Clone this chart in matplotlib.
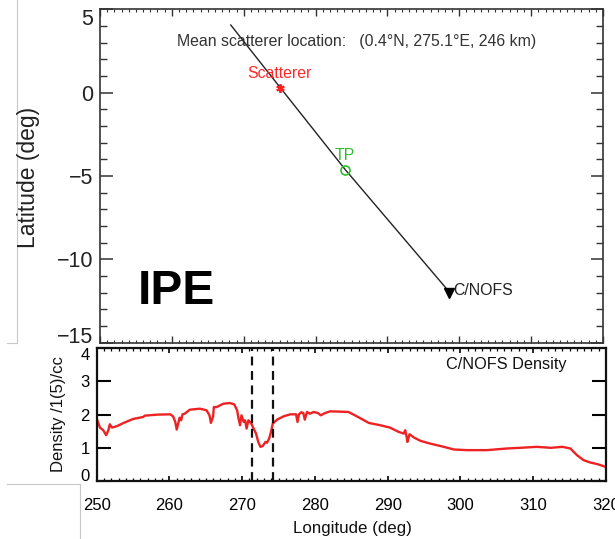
import matplotlib
matplotlib.use("Agg")
import matplotlib.pyplot as plt
from matplotlib.lines import Line2D
from matplotlib.ticker import MultipleLocator

plt.rcParams['font.family'] = ['Liberation Sans', 'DejaVu Sans']

# ---------------- data ----------------
track_lon = [268.2, 275.0, 284.1, 298.6]
track_lat = [4.06, 0.35, -4.6, -11.95]

scatterer_lon = 275.0
scatterer_lat = 0.3
tp_lon = 284.1
tp_lat = -4.64
cnofs_lon = 298.6
cnofs_lat = -12.0

density_lon = [250.0, 250.45, 250.9, 251.3, 251.6, 251.8, 252.1, 252.75, 253.7, 255.0,
               256.4, 256.6, 258.3, 260.1, 260.5, 260.8, 261.0, 261.2, 261.4, 261.6,
               261.8, 262.1, 262.8, 264.2, 265.1, 265.5, 265.7, 266.0, 266.1, 266.5,
               267.4, 268.3, 268.9, 269.3, 269.5, 269.7, 269.9, 270.2, 270.4, 270.6,
               270.85, 271.2, 271.5, 271.9, 272.2, 272.5, 272.8, 273.2, 273.4, 273.7,
               273.9, 274.2, 274.8, 275.7, 276.6, 277.4, 277.6, 277.8, 278.1, 278.4,
               278.6, 278.9, 279.3, 279.8, 280.4, 280.8, 281.4, 282.1, 283.5, 284.6,
               285.5, 286.5, 287.4, 289.0, 290.3, 291.5, 292.2, 292.4, 292.6, 292.7,
               293.0, 293.6, 294.5, 295.8, 297.7, 299.1, 300.9, 303.6, 306.4, 308.2,
               310.5, 312.4, 314.0, 315.1, 316.0, 316.9, 317.8, 318.8, 319.9]
density_val = [1.88, 1.61, 1.53, 1.38, 1.53, 1.71, 1.61, 1.65, 1.75, 1.87,
               1.93, 1.97, 2.0, 2.01, 1.95, 1.78, 1.55, 1.73, 1.91, 1.83,
               2.01, 2.03, 2.15, 2.18, 2.13, 1.98, 1.75, 1.95, 2.23, 2.23,
               2.33, 2.35, 2.31, 2.13, 1.88, 1.68, 1.98, 1.78, 1.83, 1.58,
               1.83, 1.75, 1.61, 1.43, 1.18, 1.03, 1.05, 1.18, 1.15, 1.28,
               1.43, 1.73, 1.85, 1.95, 2.01, 2.01, 1.78, 2.01, 2.07, 2.05,
               1.85, 2.08, 2.03, 2.08, 2.05, 1.98, 2.05, 2.1, 2.09, 2.08,
               1.98, 1.86, 1.75, 1.68, 1.61, 1.48, 1.43, 1.53, 1.33, 1.18,
               1.41, 1.31, 1.21, 1.13, 1.03, 0.95, 0.93, 0.93, 0.98, 1.0,
               1.03, 1.0, 1.03, 0.98, 0.78, 0.63, 0.56, 0.51, 0.43]

dashed_lon = [271.4, 274.2]

lat_ticks = [5, 0, -5, -10, -15]
lat_tick_labels = ["5", "0", "\u22125", "\u221210", "\u221215"]
lon_ticks = [250, 260, 270, 280, 290, 300, 310, 320]
dens_ticks = [0, 1, 2, 3, 4]

mean_text = "Mean scatterer location:   (0.4\u00b0N, 275.1\u00b0E, 246 km)"

# ---------------- figure ----------------
W, H = 615, 539
fig = plt.figure(figsize=(W / 100, H / 100), dpi=100)

def fx(px):
    return px / W

def fy(py):
    return 1 - py / H

# top panel
top_l, top_r, top_t, top_b = 100, 603, 9.35, 342.7
ax1 = fig.add_axes([fx(top_l), fy(top_b), fx(top_r - top_l), (top_b - top_t) / H])
ax1.set_xlim(250, 320)
ax1.set_ylim(-15, 5)
ax1.plot(track_lon, track_lat, color='#222222', lw=1.0)
ax1.plot([scatterer_lon], [scatterer_lat], marker=(6, 2, 0), color='#ff2020',
         ms=6, mew=1.5, ls='none')
ax1.plot([tp_lon], [tp_lat], marker='o', mfc='none', mec='#33bb33', ms=6.5,
         mew=1.2, ls='none')
ax1.plot([cnofs_lon], [cnofs_lat], marker='v', color='black', ms=7, ls='none')
ax1.text(scatterer_lon, 1.16, "Scatterer", color='#ff2828', fontsize=11.4,
         ha='center', va='center')
ax1.text(tp_lon, -3.74, "TP", color='#33bb33', fontsize=11.4,
         ha='center', va='center')
ax1.text(cnofs_lon + 0.55, -11.85, "C/NOFS", color='#222222', fontsize=11.4,
         ha='left', va='center')
ax1.text(260.7, 3.1, mean_text, color='#333333', fontsize=11.4,
         ha='left', va='center')
ax1.text(255.3, -11.9, "IPE", color='black', fontsize=34.5, fontweight='bold',
         ha='left', va='center')

ax1.set_yticks(lat_ticks)
ax1.set_yticklabels(lat_tick_labels)
ax1.yaxis.set_minor_locator(MultipleLocator(1))
ax1.set_xticks(lon_ticks)
ax1.xaxis.set_minor_locator(MultipleLocator(1))
ax1.tick_params(axis='both', which='both', direction='in', top=True, right=True,
                labelbottom=False, colors='#333333')
ax1.tick_params(axis='y', which='major', length=9, width=1.1, labelsize=15.5,
                pad=5, labelcolor='#222222')
ax1.tick_params(axis='y', which='minor', length=5, width=1.0)
ax1.tick_params(axis='x', which='major', length=5, width=1.0)
ax1.tick_params(axis='x', which='minor', length=2.5, width=0.8)
for s in ax1.spines.values():
    s.set_linewidth(1.2)
    s.set_color('#333333')
ylabs = ax1.get_yticklabels()
ylabs[0].set_va('top')        # "5" sits just inside the top edge
ylabs[-1].set_va('baseline')  # "-15" sits just inside the bottom edge

fig.text(fx(28), fy(177), "Latitude (deg)", rotation=90, ha='center', va='center',
         fontsize=16.5, color='#222222')

# bottom panel
bot_l, bot_r, bot_t, bot_b = 96.7, 606, 348.3, 481
ax2 = fig.add_axes([fx(bot_l), fy(bot_b), fx(bot_r - bot_l), (bot_b - bot_t) / H])
ax2.set_xlim(250, 320)
ax2.set_ylim(0, 4)
ax2.plot(density_lon, density_val, color='#ee2222', lw=1.7)
for dl in dashed_lon:
    ax2.axvline(dl, color='#111111', lw=1.6, ls=(0, (4, 2.5)))
ax2.text(0.685, 0.875, "C/NOFS Density", transform=ax2.transAxes, fontsize=11.7,
         ha='left', va='center', color='#111111')
ax2.set_yticks(dens_ticks)
ax2.set_xticks(lon_ticks)
ax2.xaxis.set_minor_locator(MultipleLocator(1))
ax2.tick_params(axis='both', which='both', direction='in', top=True, right=True)
ax2.tick_params(axis='y', which='major', length=10, width=1.5, labelsize=12, pad=5)
ax2.tick_params(axis='x', which='major', length=3.5, width=1.2, labelsize=12, pad=12)
ax2.tick_params(axis='x', which='minor', length=2, width=0.9)
for s in ax2.spines.values():
    s.set_linewidth(1.6)
    s.set_color('#111111')
dlabs = ax2.get_yticklabels()
dlabs[0].set_va('baseline')
dlabs[-1].set_va('top')

fig.text(fx(58), fy(414), "Density /1(5)/cc", rotation=90, ha='center', va='center',
         fontsize=12, color='#111111')
fig.text(fx(352), fy(529), "Longitude (deg)", ha='center', va='center',
         fontsize=12.2, color='#111111')

# composite-frame artifacts (light gray borders)
gray = '#c8c8c8'
fig.add_artist(Line2D([fx(16.7), fx(16.7)], [fy(0), fy(343)], color=gray, lw=0.8))
fig.add_artist(Line2D([fx(7), fx(16.7)], [fy(343), fy(343)], color=gray, lw=0.8))
fig.add_artist(Line2D([fx(7), fx(80)], [fy(484), fy(484)], color=gray, lw=0.8))
fig.add_artist(Line2D([fx(80), fx(80)], [fy(484), fy(539)], color=gray, lw=0.8))

fig.savefig("out.png", dpi=100)
